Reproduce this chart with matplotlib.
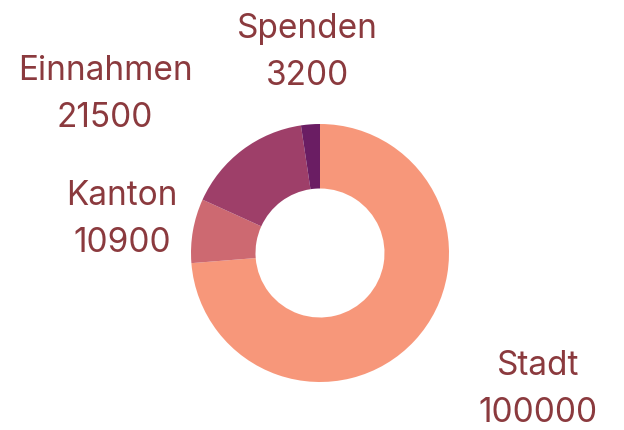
"""Donut chart of funding sources."""

import matplotlib.pyplot as plt

labels = ["Stadt", "Kanton", "Einnahmen", "Spenden"]
values = [100000, 10900, 21500, 3200]
colors = ["#F7977A", "#CD6971", "#9E3F69", "#6A1D63"]

# label anchor (x centre, baseline of first line) in data units, radius = 1
label_pos = [(1.69, -0.946), (-1.535, 0.372), (-1.667, 1.341), (-0.10, 1.667)]
line_gap = 0.365

plt.rcParams["font.family"] = ["Inter", "DejaVu Sans"]

fig = plt.figure(figsize=(6.24, 4.30), dpi=100)
ax = fig.add_axes([0, 0, 1, 1])

ax.pie(
    values,
    colors=colors,
    startangle=90,
    counterclock=False,
    radius=1,
    wedgeprops=dict(width=0.5, linewidth=0),
)

for name, val, (x, y) in zip(labels, values, label_pos):
    ax.text(x, y, name, ha="center", va="baseline", fontsize=24, color="#8B3A3E")
    ax.text(x, y - line_gap, str(val), ha="center", va="baseline",
            fontsize=24, color="#8B3A3E")

ax.set_xlim(-320 / 129, 304 / 129)
ax.set_ylim(-177 / 129, 253 / 129)
ax.set_aspect("equal")
ax.axis("off")

fig.savefig("out.png", dpi=100)
